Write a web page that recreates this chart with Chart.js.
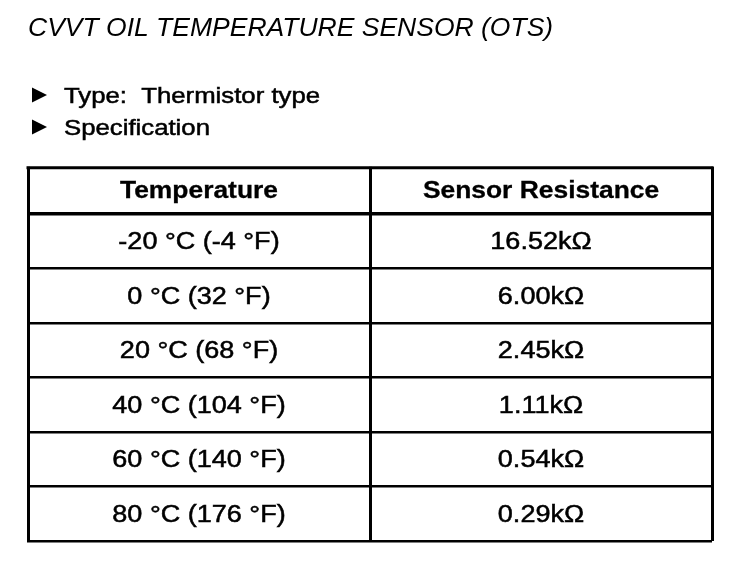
<!DOCTYPE html>
<html>
<head>
<meta charset="utf-8">
<script src="https://cdn.jsdelivr.net/npm/chart.js@4.4.0/dist/chart.umd.min.js"></script>
<style>
  html, body { margin: 0; padding: 0; background: #fff; }
  #wrap { width: 752px; height: 562px; position: relative; }
</style>
</head>
<body>
<div id="wrap"><canvas id="chart"></canvas></div>
<script>
const columns = ['Temperature', 'Sensor Resistance'];
const tempC = [-20, 0, 20, 40, 60, 80];
const tempF = [-4, 32, 68, 104, 140, 176];
const resistanceK = [16.52, 6.00, 2.45, 1.11, 0.54, 0.29];
const bullets = ['Type:  Thermistor type', 'Specification'];

const tempLabels = tempC.map((c, i) => `${c} °C (${tempF[i]} °F)`);
const resistanceLabels = resistanceK.map(r => r.toFixed(2) + 'kΩ');
const cellText = [tempLabels, resistanceLabels];

const FONT = '"Liberation Sans", Arial, Helvetica, sans-serif';

// the scanned original has slightly wide, heavy glyphs
function wideText(ctx, txt, x, y, sx, weight) {
  ctx.save();
  ctx.translate(x, y);
  ctx.scale(sx, 1);
  ctx.fillText(txt, 0, 0);
  if (weight) {
    ctx.lineWidth = weight;
    ctx.strokeText(txt, 0, 0);
  }
  ctx.restore();
}

const tablePlugin = {
  id: 'tablePlugin',
  beforeDraw(chart) {
    const ctx = chart.ctx;
    ctx.save();
    ctx.fillStyle = '#fff';
    ctx.fillRect(0, 0, chart.width, chart.height);
    ctx.restore();
  },
  afterDraw(chart) {
    const ctx = chart.ctx;
    const x = chart.scales.x, y = chart.scales.y;
    const area = chart.chartArea;
    ctx.save();

    // top edge of the header row
    ctx.strokeStyle = '#000';
    ctx.lineWidth = 3;
    ctx.beginPath();
    ctx.moveTo(area.left - 1.5, x.top + 1);
    ctx.lineTo(area.right + 1.5, x.top + 1);
    ctx.stroke();

    ctx.fillStyle = '#000';

    // bullets under the title
    ctx.font = `22px ${FONT}`;
    ctx.textAlign = 'left';
    ctx.textBaseline = 'alphabetic';
    bullets.forEach((txt, i) => {
      const cy = 95 + i * 32;
      ctx.beginPath();
      ctx.moveTo(32, cy - 7.5);
      ctx.lineTo(47, cy);
      ctx.lineTo(32, cy + 7.5);
      ctx.closePath();
      ctx.fill();
      wideText(ctx, txt, 64, cy + 8, 1.17, 0.5);
    });

    // header row
    ctx.textAlign = 'center';
    ctx.textBaseline = 'middle';
    ctx.font = `bold 24px ${FONT}`;
    const hy = (x.top + x.bottom) / 2 + 1;
    columns.forEach((c, i) => wideText(ctx, c, x.getPixelForValue(i), hy, 1.1, 0.3));

    // body cells
    ctx.font = `23.5px ${FONT}`;
    cellText.forEach((col, ci) => {
      const cx = x.getPixelForValue(ci);
      col.forEach((txt, ri) => wideText(ctx, txt, cx, y.getPixelForValue(ri) + 1.5, 1.15, 0.5));
    });
    ctx.restore();
  }
};

new Chart(document.getElementById('chart'), {
  type: 'bar',
  data: { labels: tempLabels, datasets: [] },
  plugins: [tablePlugin],
  options: {
    responsive: true,
    maintainAspectRatio: false,
    animation: false,
    layout: { padding: { left: 28, right: 40, top: 0, bottom: 21 } },
    plugins: {
      legend: { display: false },
      tooltip: { enabled: false },
      title: {
        display: true,
        text: 'CVVT OIL TEMPERATURE SENSOR (OTS)',
        align: 'start',
        color: '#000',
        font: { family: FONT, size: 26.5, style: 'italic', weight: 'normal', lineHeight: 1.2 },
        padding: { top: 13, bottom: 122 }
      }
    },
    scales: {
      x: {
        type: 'category',
        labels: columns,
        position: 'top',
        offset: true,
        grid: { offset: true, color: '#000', lineWidth: 3, drawTicks: true, tickLength: 47 },
        border: { display: true, color: '#000', width: 3 },
        ticks: { display: false },
        afterFit: s => { s.height = 47; }
      },
      y: {
        type: 'category',
        labels: tempLabels,
        offset: true,
        grid: { offset: true, color: '#000', lineWidth: 2.5, drawTicks: false },
        border: { display: true, color: '#000', width: 3 },
        ticks: { display: false },
        afterFit: s => { s.width = 0; }
      }
    }
  }
});
</script>
</body>
</html>
